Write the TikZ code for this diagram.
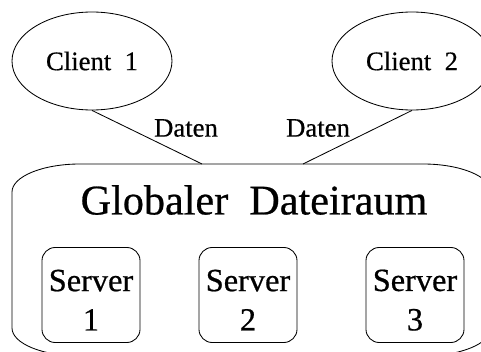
\documentclass[tikz,border=0pt]{standalone}
\usepackage{fontspec}
\setmainfont{Liberation Serif}[FakeBold=0.6]
\newfontfamily\widefont[WordSpace=2,FakeBold=0.6]{Liberation Serif}
\usetikzlibrary{shapes.geometric}

\tikzset{
  client/.style={draw, semithick, ellipse, minimum width=4cm, minimum height=2.45cm,
    font=\widefont\fontsize{19}{23}\selectfont},
  server/.style={draw, semithick, rounded corners=0.33cm, minimum width=2.45cm,
    minimum height=2.375cm, align=center, inner sep=1pt, text height=50.5pt,
    font=\fontsize{23}{28}\selectfont},
  datenlabel/.style={font=\fontsize{19}{23}\selectfont}
}

\begin{document}
\begin{tikzpicture}
\useasboundingbox (0,0) rectangle (12.025,8.8);
\clip (0,0) rectangle (12.025,8.8);

% Clients
\node[client] (c1) at (2.3,7.275) {Client 1};
\node[client] (c2) at (10.3,7.275) {Client 2};

% globaler Dateiraum
\draw[semithick] (0.3,4.0) -- (0.3,0.6)
  arc[start angle=180, end angle=270, x radius=1.7cm, y radius=0.7cm]
  -- (10.575,-0.1)
  arc[start angle=270, end angle=360, x radius=1.7cm, y radius=0.7cm]
  -- (12.275,4.0)
  arc[start angle=0, end angle=90, x radius=1.7cm, y radius=0.7cm]
  -- (2.0,4.7)
  arc[start angle=90, end angle=180, x radius=1.7cm, y radius=0.7cm] -- cycle;
\node[font=\widefont\fontsize{30}{36}\selectfont] (raum) at (6.35,3.8) {Globaler Dateiraum};
\coordinate (top1) at (5.05,4.7);
\coordinate (top2) at (7.575,4.7);

% Server
\node[server] (s1) at (2.275,1.425) {Server\\1};
\node[server] (s2) at (6.2,1.425) {Server\\2};
\node[server] (s3) at (10.375,1.425) {Server\\3};

% Verbindungen
\draw[semithick] (c1.south) -- (top1);
\draw[semithick] (c2.south) -- (top2);
\node[datenlabel] (d1) at (4.65,5.6) {Daten};
\node[datenlabel] (d2) at (7.95,5.6) {Daten};
\end{tikzpicture}
\end{document}
